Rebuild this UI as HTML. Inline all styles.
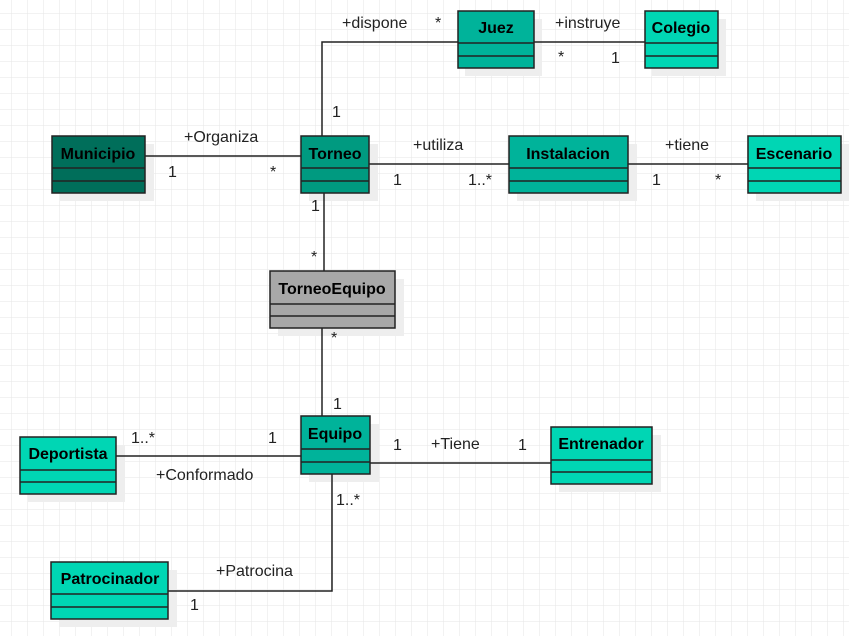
<!DOCTYPE html>
<html><head><meta charset="utf-8">
<style>
html,body{margin:0;padding:0;background:#fff;}
svg{display:block;font-family:"Liberation Sans",Arial,sans-serif;}
.t{font-size:16px;fill:#222;}
.n{font-size:16px;font-weight:bold;fill:#000;text-anchor:middle;}
.l{stroke:#222;stroke-width:1.5;fill:none;}
.b{stroke:#222;stroke-width:1.5;}
.s{fill:#eeeeee;}
</style></head><body>
<svg width="849" height="636" viewBox="0 0 849 636" xmlns="http://www.w3.org/2000/svg">
<defs>
<pattern id="g" x="11" y="13" width="16" height="16" patternUnits="userSpaceOnUse">
<path d="M0 0H16M0 0V16" stroke="#e6e6e6" stroke-width="1" fill="none"/>
</pattern>
</defs>
<rect width="849" height="636" fill="url(#g)"/>

<rect class="s" x="465" y="19" width="77" height="57"/>
<rect class="s" x="652" y="19" width="74" height="57"/>
<rect class="s" x="60" y="144" width="94" height="57"/>
<rect class="s" x="309" y="144" width="69" height="57"/>
<rect class="s" x="517" y="144" width="120" height="57"/>
<rect class="s" x="756" y="144" width="93" height="57"/>
<rect class="s" x="278" y="279" width="126" height="57"/>
<rect class="s" x="309" y="424" width="70" height="58"/>
<rect class="s" x="559" y="435" width="102" height="57"/>
<rect class="s" x="28" y="445" width="97" height="57"/>
<rect class="s" x="59" y="570" width="118" height="57"/>

<polyline class="l" points="322,136 322,42 458,42"/>
<line class="l" x1="533" y1="42" x2="645" y2="42"/>
<line class="l" x1="145" y1="156" x2="301" y2="156"/>
<line class="l" x1="369" y1="164" x2="509" y2="164"/>
<line class="l" x1="628" y1="164" x2="748" y2="164"/>
<line class="l" x1="324" y1="193" x2="324" y2="271"/>
<line class="l" x1="322" y1="328" x2="322" y2="416"/>
<line class="l" x1="116" y1="456" x2="301" y2="456"/>
<line class="l" x1="370" y1="463" x2="551" y2="463"/>
<polyline class="l" points="332,474 332,591 168,591"/>

<g>
<rect class="b" x="458" y="11" width="76" height="57" fill="#00b39a"/>
<line class="b" x1="458" y1="43" x2="534" y2="43"/><line class="b" x1="458" y1="56" x2="534" y2="56"/>
<text class="n" x="496" y="33">Juez</text>

<rect class="b" x="645" y="11" width="73" height="57" fill="#00d6b4"/>
<line class="b" x1="645" y1="43" x2="718" y2="43"/><line class="b" x1="645" y1="56" x2="718" y2="56"/>
<text class="n" x="681" y="33">Colegio</text>

<rect class="b" x="52" y="136" width="93" height="57" fill="#006e5a"/>
<line class="b" x1="52" y1="168" x2="145" y2="168"/><line class="b" x1="52" y1="181" x2="145" y2="181"/>
<text class="n" x="98" y="159">Municipio</text>

<rect class="b" x="301" y="136" width="68" height="57" fill="#009a80"/>
<line class="b" x1="301" y1="168" x2="369" y2="168"/><line class="b" x1="301" y1="181" x2="369" y2="181"/>
<text class="n" x="335" y="159">Torneo</text>

<rect class="b" x="509" y="136" width="119" height="57" fill="#00b39a"/>
<line class="b" x1="509" y1="168" x2="628" y2="168"/><line class="b" x1="509" y1="181" x2="628" y2="181"/>
<text class="n" x="568" y="159">Instalacion</text>

<rect class="b" x="748" y="136" width="93" height="57" fill="#00d6b4"/>
<line class="b" x1="748" y1="168" x2="841" y2="168"/><line class="b" x1="748" y1="181" x2="841" y2="181"/>
<text class="n" x="794" y="159">Escenario</text>

<rect class="b" x="270" y="271" width="125" height="57" fill="#a8a8a8"/>
<line class="b" x1="270" y1="304" x2="395" y2="304"/><line class="b" x1="270" y1="316" x2="395" y2="316"/>
<text class="n" x="332" y="294">TorneoEquipo</text>

<rect class="b" x="301" y="416" width="69" height="58" fill="#00b39a"/>
<line class="b" x1="301" y1="449" x2="370" y2="449"/><line class="b" x1="301" y1="462" x2="370" y2="462"/>
<text class="n" x="335" y="439">Equipo</text>

<rect class="b" x="551" y="427" width="101" height="57" fill="#00d6b4"/>
<line class="b" x1="551" y1="460" x2="652" y2="460"/><line class="b" x1="551" y1="472" x2="652" y2="472"/>
<text class="n" x="601" y="449">Entrenador</text>

<rect class="b" x="20" y="437" width="96" height="57" fill="#00d6b4"/>
<line class="b" x1="20" y1="470" x2="116" y2="470"/><line class="b" x1="20" y1="482" x2="116" y2="482"/>
<text class="n" x="68" y="459">Deportista</text>

<rect class="b" x="51" y="562" width="117" height="57" fill="#00d6b4"/>
<line class="b" x1="51" y1="594" x2="168" y2="594"/><line class="b" x1="51" y1="607" x2="168" y2="607"/>
<text class="n" x="110" y="584">Patrocinador</text>
</g>

<text class="t" x="342" y="28">+dispone</text>
<text class="t" x="435" y="28">*</text>
<text class="t" x="332" y="117">1</text>
<text class="t" x="555" y="28">+instruye</text>
<text class="t" x="558" y="62">*</text>
<text class="t" x="611" y="63">1</text>
<text class="t" x="184" y="142">+Organiza</text>
<text class="t" x="168" y="177">1</text>
<text class="t" x="270" y="177">*</text>
<text class="t" x="413" y="150">+utiliza</text>
<text class="t" x="393" y="185">1</text>
<text class="t" x="468" y="185">1..*</text>
<text class="t" x="665" y="150">+tiene</text>
<text class="t" x="652" y="185">1</text>
<text class="t" x="715" y="185">*</text>
<text class="t" x="311" y="211">1</text>
<text class="t" x="311" y="262">*</text>
<text class="t" x="331" y="343">*</text>
<text class="t" x="333" y="409">1</text>
<text class="t" x="131" y="443">1..*</text>
<text class="t" x="268" y="443">1</text>
<text class="t" x="156" y="480">+Conformado</text>
<text class="t" x="393" y="450">1</text>
<text class="t" x="431" y="449">+Tiene</text>
<text class="t" x="518" y="450">1</text>
<text class="t" x="336" y="505">1..*</text>
<text class="t" x="216" y="576">+Patrocina</text>
<text class="t" x="190" y="610">1</text>
</svg>
</body></html>
